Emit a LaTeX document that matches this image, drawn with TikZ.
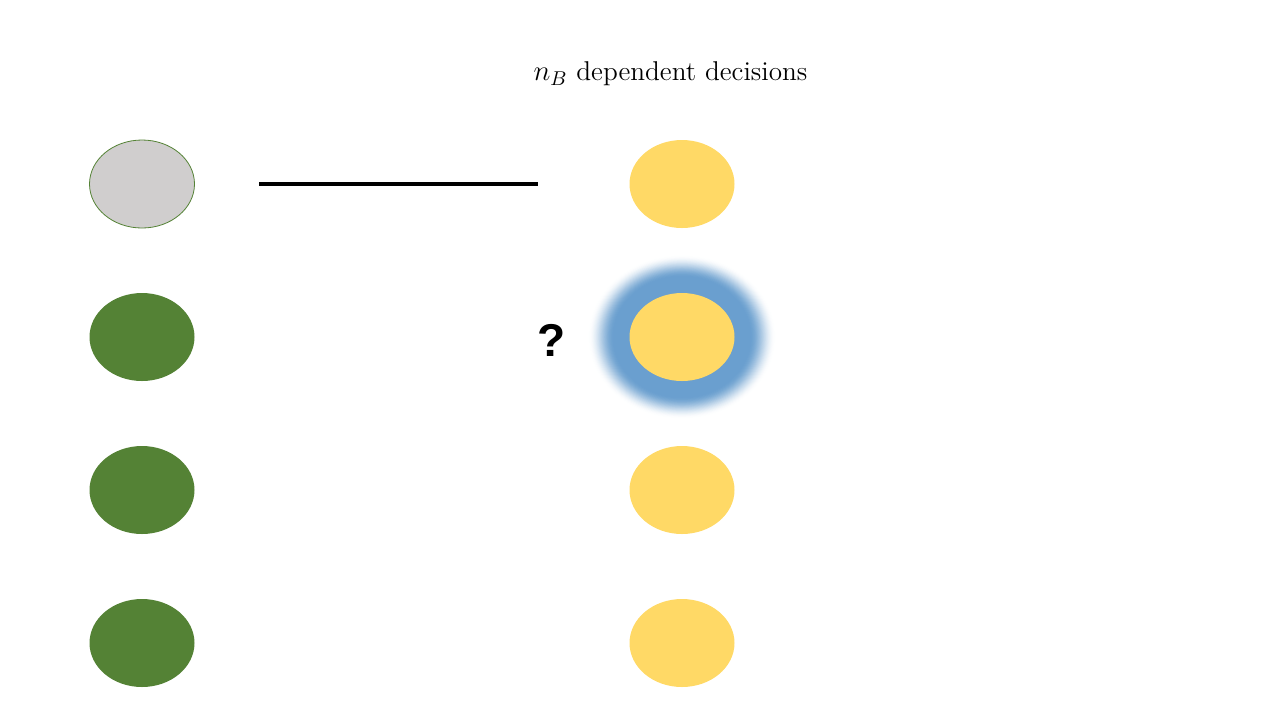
\documentclass[tikz,border=0pt]{standalone}
\usepackage{fontspec}
\newfontfamily\qfont{Liberation Sans}
\definecolor{greyfill}{HTML}{D0CECE}
\definecolor{greenc}{HTML}{548235}
\definecolor{yellowc}{HTML}{FFD966}
\definecolor{glowc}{HTML}{6A9FCF}
\tikzset{
  dot/.style={ellipse, minimum width=52.5pt, minimum height=44pt, inner sep=0pt},
  known/.style={dot, fill=greenc},
  unknown/.style={dot, fill=greyfill, draw=greenc, line width=0.4pt},
  decision/.style={dot, fill=yellowc},
}
\usetikzlibrary{shapes.geometric}
\begin{document}
\begin{tikzpicture}[x=0.5pt,y=-0.5pt]
\useasboundingbox (0,0) rectangle (1280,720);
\node[font=\fontsize{13.6}{16}\selectfont] (title) at (670.5,74) {$n_B$ dependent decisions};
\node[unknown] (l1) at (142,184) {};
\node[known] (l2) at (142,337) {};
\node[known] (l3) at (142,490) {};
\node[known] (l4) at (142,643) {};
\foreach \i in {0,...,30}{
  \pgfmathsetmacro\t{\i/30}
  \pgfmathsetmacro\rx{94-26*\t}
  \pgfmathsetmacro\ry{82-22*\t}
  \pgfmathsetmacro\p{100*\t*\t*(3-2*\t)}
  \fill[glowc!\p!white] (682,337) ellipse [x radius=\rx, y radius=\ry];
}
\node[decision] (r1) at (682,184) {};
\node[decision] (r2) at (682,337) {};
\node[decision] (r3) at (682,490) {};
\node[decision] (r4) at (682,643) {};
\coordinate (ls) at (259,184);
\coordinate (le) at (538,184);
\draw[line width=2pt] (ls) -- (le);
\node[font=\qfont\bfseries\fontsize{23}{27}\selectfont, inner sep=0pt] (q) at (552,340) {?};
\end{tikzpicture}
\end{document}
